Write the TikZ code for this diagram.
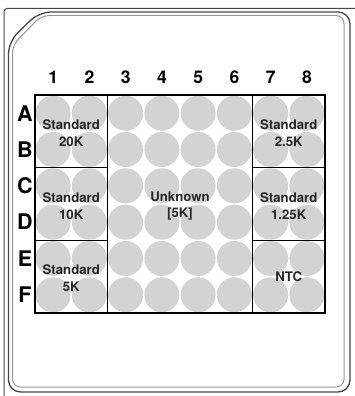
\documentclass[tikz,border=0pt]{standalone}
\usepackage{fontspec}
\setmainfont{TeX Gyre Heros}
\definecolor{wellgray}{RGB}{211,211,211}
\definecolor{framegray}{RGB}{70,70,70}
\definecolor{innergray}{RGB}{150,150,150}
\begin{document}
\begin{tikzpicture}[x=1pt,y=-1pt,
  grid/.style={draw=black,line width=1.4pt},
  lbl/.style={font=\bfseries\fontsize{13.2}{16.5}\selectfont,align=center,text=black!85,inner sep=0pt},
  colno/.style={font=\bfseries\fontsize{17.5}{18}\selectfont,inner sep=0pt},
  rowno/.style={font=\bfseries\fontsize{21.5}{22}\selectfont,inner sep=0pt}]

\useasboundingbox (0,0) rectangle (354,396);

% ===== Khung ngoai =====
\draw[framegray,line width=1pt,rounded corners=3pt] (4,400) -- (4,8.5) -- (358,8.5);

% ===== Khung dia (net doi) =====
\draw[framegray,line width=1.3pt,rounded corners=12pt]
  (8.5,42) -- (39,12) -- (350,12) -- (350,392) -- (8.5,392) -- cycle;
\draw[innergray,line width=1pt,rounded corners=8pt]
  (12.5,45) -- (41.5,15.5) -- (344,15.5) -- (344,387) -- (12.5,387) -- cycle;

% ===== Cac gieng =====
\foreach \c in {1,...,8} {
    \foreach \r in {1,...,6} {
        \fill[wellgray] ({35+(\c-0.5)*36.25},{95+(\r-0.5)*36.33}) circle (17.5);
    }
}

% ===== Luoi =====
\draw[grid] (35,95) rectangle (325,313);
\draw[grid] (107.5,95) -- (107.5,313);
\draw[grid] (252.5,95) -- (252.5,313);
\draw[grid] (35,167.7) -- (107.5,167.7);
\draw[grid] (35,240.3) -- (107.5,240.3);
\draw[grid] (252.5,167.7) -- (325,167.7);
\draw[grid] (252.5,240.3) -- (325,240.3);

% ===== So cot =====
\foreach \c in {1,...,8} {
    \node[colno] (col\c) at ({35+(\c-0.5)*36.25},77) {\c};
}

% ===== Chu hang =====
\foreach \l [count=\r] in {A,B,C,D,E,F} {
    \node[rowno] (row\l) at (25,{95+(\r-0.5)*36.33}) {\l};
}

% ===== Nhan =====
\node[lbl] (s20k) at (71.25,133) {Standard\\20K};
\node[lbl] (s10k) at (71.25,206) {Standard\\10K};
\node[lbl] (s5k) at (71.25,278) {Standard\\5K};

\node[lbl] (unk) at (180,206) {Unknown\\{[5K]}};

\node[lbl] (s2k5) at (288.75,133) {Standard\\2.5K};
\node[lbl] (s1k25) at (288.75,206) {Standard\\1.25K};
\node[lbl] (ntc) at (288.75,277) {NTC};

\end{tikzpicture}
\end{document}
